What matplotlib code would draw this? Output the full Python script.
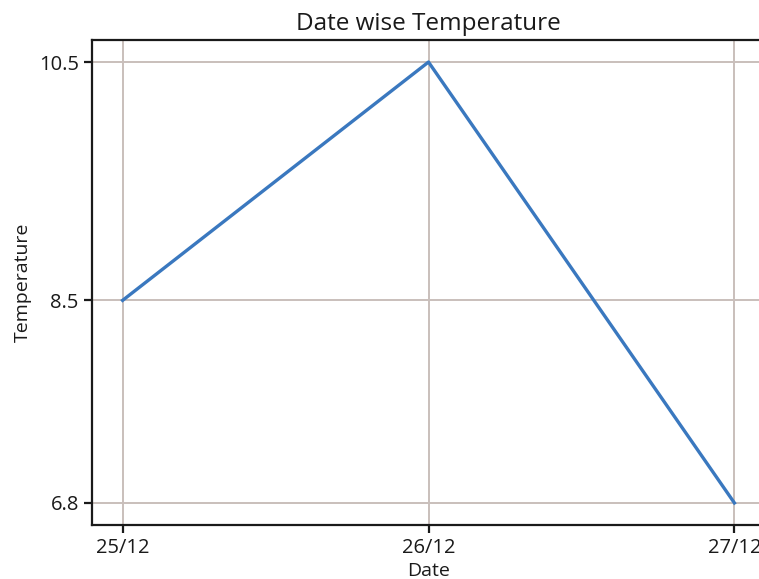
import matplotlib
matplotlib.use("Agg")
import matplotlib.pyplot as plt

dates = ["25/12", "26/12", "27/12"]
temps = [8.5, 10.5, 6.8]

plt.rcParams['font.family'] = ['Open Sans', 'DejaVu Sans']

fig = plt.figure(figsize=(7.59, 5.79), dpi=100)
ax = fig.add_axes([92/759, 1 - 525/579, 673/759, 485/579])
ax.plot(dates, temps, color="#3a78bf", linewidth=2.4)
ax.set_yticks(temps)
ax.set_yticklabels([str(t) for t in temps])
ax.grid(True, color="#c9bfbb", linewidth=1.4)
ax.set_axisbelow(True)
for s in ax.spines.values():
    s.set_linewidth(1.6)
    s.set_color("#1a1a1a")
ax.spines['right'].set_visible(False)
ax.tick_params(labelsize=14.5, length=6, width=1.6, colors="#1a1a1a")
ax.set_title("Date wise Temperature", fontsize=17.5, pad=7, color="#1a1a1a")
ax.set_xlabel("Date", fontsize=14, labelpad=3, color="#1a1a1a")
ax.set_ylabel("Temperature", fontsize=14, labelpad=5, color="#1a1a1a")
fig.savefig("out.png", dpi=100)
